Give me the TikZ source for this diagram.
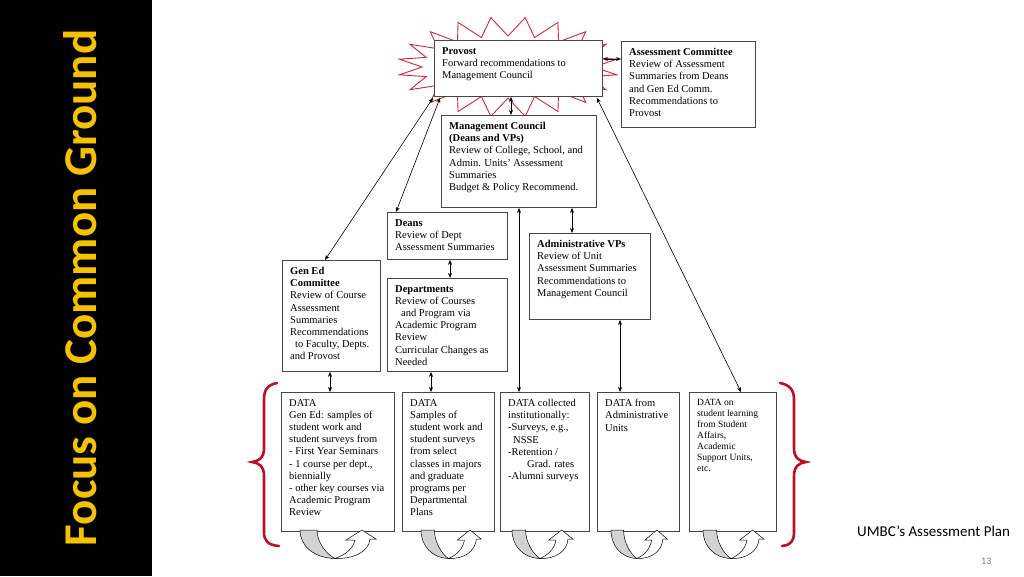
\documentclass[tikz,border=0pt]{standalone}
\usepackage{fontspec}
\setmainfont{Liberation Serif}
\newfontfamily\calibri{Carlito}
\usetikzlibrary{arrows.meta,calc}
\definecolor{gold}{RGB}{245,194,0}
\definecolor{starred}{RGB}{214,38,60}
\definecolor{bracered}{RGB}{192,14,40}
\definecolor{boxgray}{RGB}{70,70,70}
\begin{document}
\begin{tikzpicture}[x=1pt,y=-1pt,
  box/.style={draw=boxgray, line width=0.9pt, fill=white, inner sep=0pt, anchor=north west},
  txt/.style={anchor=north west, inner sep=0pt, align=left, font=\fontsize{10.5}{12.2}\selectfont},
  smalltxt/.style={txt, font=\fontsize{9.5}{11}\selectfont},
  link/.style={line width=0.6pt, {Stealth[length=5pt,width=4pt]}-{Stealth[length=5pt,width=4pt]}},
  brace/.style={draw=bracered, line width=2.6pt, line cap=round},
  uturn/.pic={
    \filldraw[fill=gray!35, draw=black, line width=0.5pt] (0,0) .. controls (0,16) and (14,28) .. (35,28.5) .. controls (26,24) and (17,12) .. (17,0) -- cycle;
    \filldraw[fill=white, draw=black, line width=0.5pt] (35,28.5) .. controls (55,29) and (69,21) .. (70,9) -- (76,9) -- (62,0) -- (46,10) -- (55,10) .. controls (53,19) and (45,25) .. (35,28.5) -- cycle;
  }
]
\useasboundingbox (0,0) rectangle (1024,576);
\fill[white] (0,0) rectangle (1024,576);
% left title bar
\fill[black] (0,0) rectangle (152,576);
\node[rotate=90, font=\calibri\bfseries\fontsize{47}{56}\selectfont, text=gold, anchor=base] (title) at (96,288) {Focus on Common Ground};

% starburst around provost
\filldraw[fill=white, draw=starred, line width=0.9pt] (594,67)
  \foreach \k in {0,...,19} { -- ({508+110*cos(\k*18+9)},{67+50*sin(\k*18+9)}) -- ({508+86*cos(\k*18+18)},{67+31*sin(\k*18+18)}) } -- cycle;

% boxes
\node[box, minimum width=168pt, minimum height=56pt] (provost) at (434,40) {};
\node[txt] (provostT) at (442,47) {\textbf{Provost}\\Forward recommendations to\\Management Council};

\node[box, minimum width=134pt, minimum height=86pt] (assess) at (621,41) {};
\node[txt] (assessT) at (629,48) {\textbf{Assessment Committee}\\Review of Assessment\\Summaries from Deans\\and Gen Ed Comm.\\Recommendations to\\Provost};

\node[box, minimum width=155pt, minimum height=92pt] (mc) at (441,115) {};
\node[txt] (mcT) at (449,122) {\textbf{Management Council}\\\textbf{(Deans and VPs)}\\Review of College, School, and\\Admin. Units' Assessment\\Summaries\\Budget \& Policy Recommend.};

\node[box, minimum width=120pt, minimum height=47pt] (deans) at (387,212) {};
\node[txt] (deansT) at (395,219) {\textbf{Deans}\\Review of Dept\\Assessment Summaries};

\node[box, minimum width=98pt, minimum height=111pt] (gened) at (282,260) {};
\node[txt] (genedT) at (290,267) {\textbf{Gen Ed}\\\textbf{Committee}\\Review of Course\\Assessment\\Summaries\\Recommendations\\\hspace*{5pt}to Faculty, Depts.\\and Provost};

\node[box, minimum width=120pt, minimum height=93pt] (dept) at (387,278) {};
\node[txt] (deptT) at (395,285) {\textbf{Departments}\\Review of Courses\\\hspace*{6pt}and Program via\\Academic Program\\Review\\Curricular Changes as\\Needed};

\node[box, minimum width=121pt, minimum height=86pt] (admin) at (529,233) {};
\node[txt] (adminT) at (537,240) {\textbf{Administrative VPs}\\Review of Unit\\Assessment Summaries\\Recommendations to\\Management Council};

% data boxes
\node[box, minimum width=113pt, minimum height=139pt] (d1) at (281,392) {};
\node[txt] (d1T) at (289,399) {DATA\\Gen Ed: samples of\\student work and\\student surveys from\\- First Year Seminars\\- 1 course per dept.,\\biennially\\- other key courses via\\Academic Program\\Review};

\node[box, minimum width=92pt, minimum height=139pt] (d2) at (402,392) {};
\node[txt] (d2T) at (410,399) {DATA\\Samples of\\student work and\\student surveys\\from select\\classes in majors\\and graduate\\programs per\\Departmental\\Plans};

\node[box, minimum width=89pt, minimum height=139pt] (d3) at (500,392) {};
\node[txt] (d3T) at (508,399) {DATA collected\\institutionally:\\-Surveys, e.g.,\\\hspace*{5pt}NSSE\\-Retention /\\\hspace*{19pt}Grad. rates\\-Alumni surveys};

\node[box, minimum width=82pt, minimum height=139pt] (d4) at (597,392) {};
\node[txt] (d4T) at (605,399) {DATA from\\Administrative\\Units};

\node[box, minimum width=87pt, minimum height=139pt] (d5) at (689,392) {};
\node[smalltxt] (d5T) at (697,399) {DATA on\\student learning\\from Student\\Affairs,\\Academic\\Support Units,\\etc.};

% connectors
\draw[link] ($(provost.north east)+(0,19)$) -- ($(assess.north west)+(0,18)$);
\draw[link] (511,0 |- provost.south) -- (511,0 |- mc.north);
\draw[link] ($(gened.north west)+(43,0)$) -- ($(provost.south west)+(-1,1)$);
\draw[link] ($(deans.north west)+(9,0)$) -- ($(provost.south west)+(6,1)$);
\draw[link] ($(provost.south east)+(-6,1)$) -- ($(d5.north west)+(52,0)$);
\draw[link] (519,0 |- mc.south) -- (519,0 |- d3.north);
\draw[link] (572,0 |- mc.south) -- (572,0 |- admin.north);
\draw[link] (450,0 |- deans.south) -- (450,0 |- dept.north);
\draw[link] (330,0 |- gened.south) -- (330,0 |- d1.north);
\draw[link] (431,0 |- dept.south) -- (431,0 |- d2.north);
\draw[link] (620,0 |- admin.south) -- (620,0 |- d4.north);

% braces
\draw[brace] (277,383) .. controls (267,385) and (264,390) .. (264,400) -- (264,448) .. controls (264,458) and (259,461) .. (252,462) .. controls (259,463) and (264,466) .. (264,476) -- (264,532) .. controls (264,541) and (268,545) .. (279,546);
\draw[brace] (780,383) .. controls (790,385) and (794,390) .. (794,400) -- (794,448) .. controls (794,458) and (799,461) .. (806,462) .. controls (799,463) and (794,466) .. (794,476) -- (794,532) .. controls (794,541) and (791,545) .. (782,546);

% cycle arrows
\pic at (300,530) {uturn};
\pic[xscale=0.79] at (421,530) {uturn};
\pic[xscale=0.8] at (512,530) {uturn};
\pic[xscale=0.74] at (611,530) {uturn};
\pic[xscale=0.8] at (703,530) {uturn};

% caption
\node[font=\calibri\fontsize{15}{18}\selectfont, anchor=base west, inner sep=0pt] (caption) at (857,536) {UMBC’s Assessment Plan};
\node[font=\calibri\fontsize{10}{12}\selectfont, text=gray, anchor=base west, inner sep=0pt] (pnum) at (981,564) {13};
\end{tikzpicture}
\end{document}
